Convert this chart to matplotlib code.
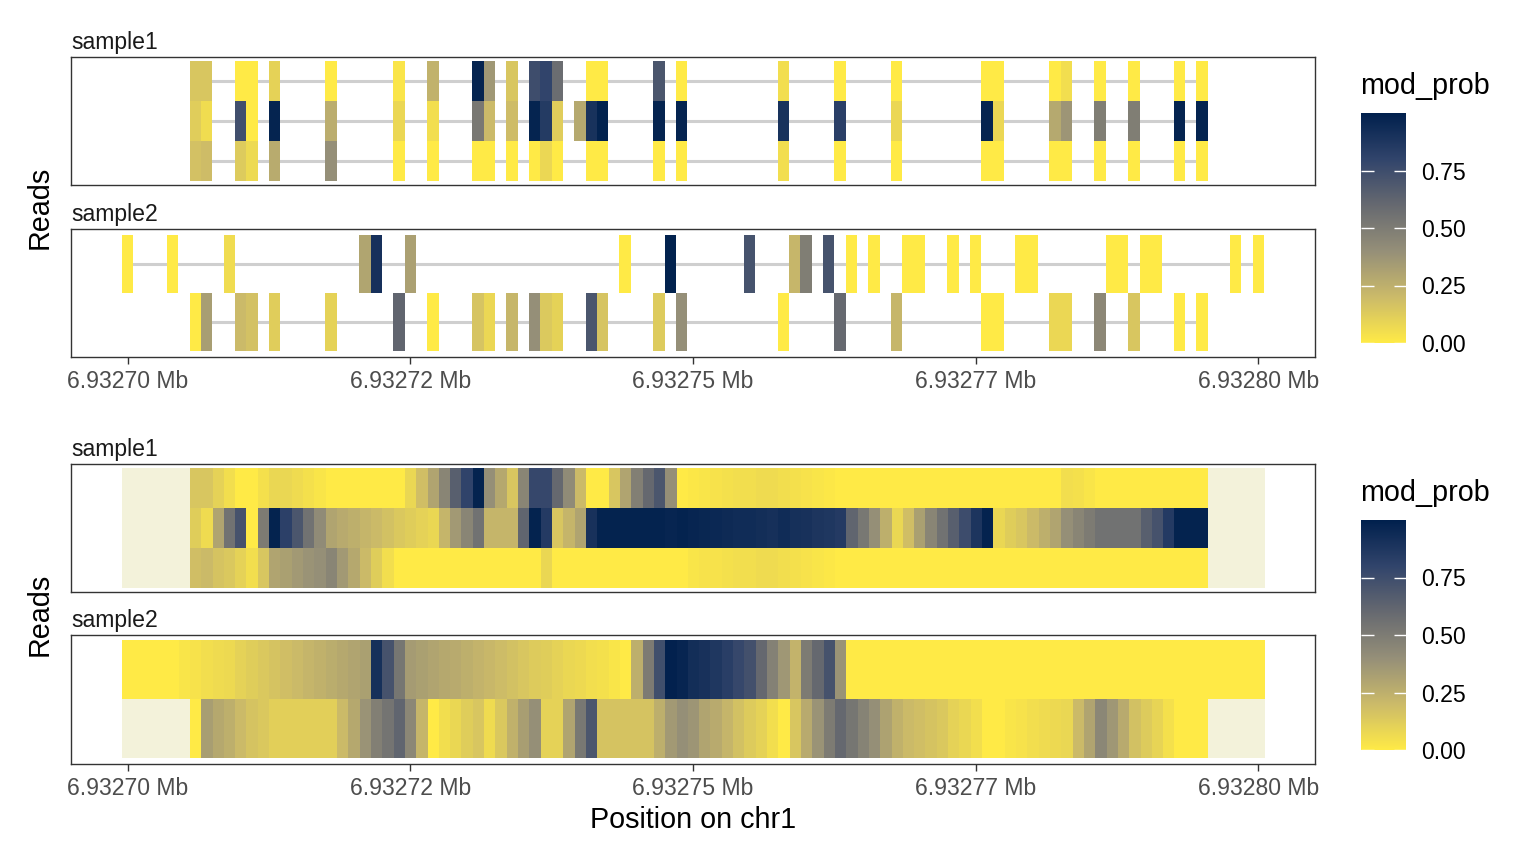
import numpy as np
import matplotlib
matplotlib.use("Agg")
import matplotlib.pyplot as plt
from matplotlib.colors import Normalize, LinearSegmentedColormap
from matplotlib.cm import ScalarMappable

plt.rcParams['font.family'] = ['Liberation Sans', 'DejaVu Sans']

nan = np.nan

# ---------------- data ----------------
region_start = 6932700          # chr1 position of offset 0
region_len = 101                # offsets 0..100
tick_offsets = [0, 25, 50, 75, 100]
tick_labels = ["6.93270 Mb", "6.93272 Mb", "6.93275 Mb", "6.93277 Mb", "6.93280 Mb"]
samples = ["sample1", "sample2"]

# read spans (offsets) per sample
s1_read_spans = [(6, 95), (6, 95), (6, 95)]
s2_read_spans = [(0, 100), (6, 95)]

# modification calls: offsets and mod_prob per read
s1_r1_pos = [6, 7, 10, 11, 13, 18, 24, 27, 31, 32, 34, 36, 37, 38, 41, 42, 47, 49,
             58, 63, 68, 76, 77, 82, 83, 86, 89, 93, 95]
s1_r1_prob = [0.15, 0.15, 0.0, 0.0, 0.1, 0.0, 0.02, 0.24, 0.98, 0.36, 0.15, 0.75, 0.8, 0.58, 0.0, 0.0, 0.7, 0.0,
              0.05, 0.0, 0.0, 0.0, 0.0, 0.0, 0.05, 0.0, 0.0, 0.0, 0.0]
s1_r2_pos = [6, 7, 10, 11, 13, 18, 24, 27, 31, 32, 34, 36, 37, 38, 40, 41, 42, 47, 49,
             58, 63, 68, 76, 77, 82, 83, 86, 89, 93, 95]
s1_r2_prob = [0.12, 0.06, 0.74, 0.0, 0.98, 0.26, 0.08, 0.05, 0.52, 0.2, 0.19, 0.98, 0.85, 0.12, 0.28, 0.9, 0.99, 0.98, 0.98,
              0.9, 0.83, 0.08, 0.98, 0.08, 0.28, 0.37, 0.49, 0.49, 0.98, 0.98]
s1_r3_pos = [6, 7, 10, 11, 13, 18, 24, 27, 31, 32, 34, 36, 37, 38, 41, 42, 47, 49,
             58, 63, 68, 76, 77, 82, 83, 86, 89, 93, 95]
s1_r3_prob = [0.17, 0.19, 0.13, 0.07, 0.27, 0.4, 0.0, 0.0, 0.0, 0.0, 0.0, 0.0, 0.08, 0.0, 0.0, 0.0, 0.0, 0.0,
              0.05, 0.0, 0.0, 0.0, 0.0, 0.0, 0.0, 0.0, 0.0, 0.0, 0.0]

s2_r1_pos = [0, 4, 9, 21, 22, 25, 44, 48, 55, 59, 60, 62, 64, 66, 69, 70, 73, 75,
             79, 80, 87, 88, 90, 91, 98, 100]
s2_r1_prob = [0.0, 0.0, 0.06, 0.3, 0.91, 0.32, 0.0, 0.99, 0.72, 0.22, 0.49, 0.72, 0.0, 0.0, 0.0, 0.0, 0.0, 0.0,
              0.0, 0.0, 0.0, 0.0, 0.0, 0.0, 0.0, 0.0]
s2_r2_pos = [6, 7, 10, 11, 13, 18, 24, 27, 31, 32, 34, 36, 37, 38, 41, 42, 47, 49,
             58, 63, 68, 76, 77, 82, 83, 86, 89, 93, 95]
s2_r2_prob = [0.0, 0.33, 0.2, 0.17, 0.12, 0.1, 0.62, 0.0, 0.16, 0.08, 0.22, 0.4, 0.14, 0.1, 0.7, 0.16, 0.13, 0.4,
              0.0, 0.6, 0.22, 0.0, 0.0, 0.08, 0.08, 0.44, 0.15, 0.0, 0.0]

# smoothed mod_prob per position (offsets 0..100), NaN outside read
s1_smooth_r1 = ([nan] * 6 +
                [0.15, 0.15, 0.1, 0.05, 0.0, 0.0, 0.04, 0.08, 0.08, 0.06, 0.04, 0.02] +
                [0.0] * 7 +
                [0.08, 0.18, 0.3, 0.45, 0.65, 0.8, 0.98, 0.4, 0.28, 0.15, 0.45, 0.78, 0.78, 0.6, 0.42, 0.2,
                 0.0, 0.0, 0.15, 0.3, 0.48, 0.6, 0.7, 0.4, 0.0,
                 0.01, 0.02, 0.03, 0.04, 0.05, 0.05, 0.06, 0.06, 0.05, 0.04, 0.03, 0.02, 0.01] +
                [0.0] * 20 +
                [0.05, 0.04, 0.02] +
                [0.0] * 10 +
                [nan] * 5)
s1_smooth_r2 = ([nan] * 6 +
                [0.12, 0.06, 0.3, 0.55, 0.72, 0.0, 0.5, 0.98, 0.82, 0.7, 0.55, 0.42, 0.3, 0.27, 0.25, 0.22,
                 0.2, 0.17, 0.14, 0.12, 0.1, 0.08, 0.22, 0.35, 0.45, 0.55, 0.22, 0.22, 0.22, 0.62, 0.98, 0.85,
                 0.15, 0.22, 0.3, 0.9, 0.98, 0.98, 0.98, 0.98, 0.98, 0.98, 0.97, 0.98, 0.97, 0.96, 0.95, 0.94,
                 0.93, 0.93, 0.92, 0.91, 0.93, 0.91, 0.9, 0.88, 0.87, 0.85, 0.62, 0.52, 0.4, 0.25, 0.08, 0.18,
                 0.32, 0.45, 0.55, 0.65, 0.75, 0.88, 0.98, 0.08, 0.12, 0.15, 0.2, 0.25, 0.3, 0.4, 0.45, 0.5,
                 0.55, 0.55, 0.55, 0.55, 0.65, 0.72, 0.85, 0.98, 0.98, 0.98] +
                [nan] * 5)
s1_smooth_r3 = ([nan] * 6 +
                [0.18, 0.2, 0.16, 0.14, 0.1, 0.05, 0.15, 0.3, 0.32, 0.35, 0.38, 0.4, 0.45, 0.35, 0.28, 0.2,
                 0.12, 0.05] +
                [0.0] * 13 +
                [0.08] +
                [0.0] * 12 +
                [0.02, 0.03, 0.03, 0.04, 0.05, 0.05, 0.06, 0.06, 0.05, 0.04, 0.03, 0.02, 0.01] +
                [0.0] * 33 +
                [nan] * 5)
s2_smooth_r1 = ([0.0] * 5 +
                [0.02, 0.03, 0.05, 0.06, 0.07, 0.1, 0.12, 0.14, 0.16, 0.18, 0.2, 0.22, 0.24, 0.26, 0.28, 0.3,
                 0.32, 0.91, 0.72, 0.53, 0.34, 0.32, 0.3, 0.28, 0.27, 0.25, 0.23, 0.21, 0.19, 0.17, 0.15, 0.13,
                 0.12, 0.1, 0.08, 0.07, 0.05, 0.04, 0.02, 0.0, 0.25, 0.5, 0.74, 0.99, 0.97, 0.92, 0.9, 0.87,
                 0.83, 0.78, 0.73, 0.6, 0.47, 0.36, 0.23, 0.5, 0.6, 0.72, 0.38] +
                [0.0] * 37)
s2_smooth_r2 = ([nan] * 6 +
                [0.0, 0.33, 0.28, 0.25, 0.2, 0.16, 0.14, 0.11, 0.11, 0.11, 0.11, 0.11, 0.11, 0.2, 0.28, 0.38,
                 0.48, 0.54, 0.62, 0.44, 0.22, 0.0, 0.05, 0.08, 0.12, 0.15, 0.06, 0.14, 0.24, 0.33, 0.4, 0.1,
                 0.1, 0.3, 0.52, 0.7, 0.16, 0.16, 0.16, 0.16, 0.16, 0.25, 0.35, 0.4, 0.37, 0.3, 0.27, 0.22,
                 0.17, 0.13, 0.1, 0.05, 0.0, 0.15, 0.27, 0.38, 0.5, 0.6, 0.53, 0.46, 0.4, 0.31, 0.24, 0.2,
                 0.18, 0.16, 0.14, 0.1, 0.08, 0.05, 0.0, 0.0, 0.02, 0.03, 0.05, 0.06, 0.07, 0.08, 0.2, 0.3,
                 0.44, 0.36, 0.27, 0.17, 0.13, 0.09, 0.04, 0.0, 0.0, 0.0] +
                [nan] * 5)

# ---------------- style ----------------
W, H = 1536, 864
fig = plt.figure(figsize=(W / 100, H / 100), dpi=100)
# six-stop cividis palette (low -> high), as used by ggplot's viridis scale
palette = ["#FFEA46", "#CBBA69", "#958F78", "#666970", "#31446B", "#00204D"]
cmap = LinearSegmentedColormap.from_list("cividis6_r", palette, N=512)
cmap.set_bad('#F3F2DA')
norm = Normalize(0.0, 1.0)
BORDER = '#333333'
LINE = '#CFCFCF'
BASE = 20.7
SMALL = 16.6


def px_axes(x0, y0, x1, y1):
    return fig.add_axes([x0 / W, 1 - y1 / H, (x1 - x0) / W, (y1 - y0) / H])


def style_axes(ax, n_rows, show_x):
    ax.set_xlim(region_start - 5, region_start + 105)
    ax.set_ylim(n_rows - 0.4, -0.6)
    ax.set_yticks([])
    for s in ax.spines.values():
        s.set_color(BORDER)
        s.set_linewidth(1.0)
    ax.set_xticks([region_start + t for t in tick_offsets])
    if show_x:
        ax.set_xticklabels(tick_labels, fontsize=SMALL, color='#4D4D4D')
        ax.tick_params(axis='x', length=5, width=1.0, color=BORDER, pad=4.5)
    else:
        ax.tick_params(axis='x', length=0, labelbottom=False)


def strip(label, y_px):
    fig.text(71 / W, 1 - y_px / H, label, fontsize=SMALL, color='#1A1A1A', va='baseline', ha='left')


panel_x0, panel_x1 = 71, 1315

# ---- top block: reads with modification calls ----
top_reads = [
    (s1_read_spans, [(s1_r1_pos, s1_r1_prob), (s1_r2_pos, s1_r2_prob), (s1_r3_pos, s1_r3_prob)]),
    (s2_read_spans, [(s2_r1_pos, s2_r1_prob), (s2_r2_pos, s2_r2_prob)]),
]
top_y = [(57, 185), (229, 357)]
for i, (spans, reads) in enumerate(top_reads):
    ax = px_axes(panel_x0, top_y[i][0], panel_x1, top_y[i][1])
    for r, ((a, b), (pos, prob)) in enumerate(zip(spans, reads)):
        ax.hlines(r, region_start + a, region_start + b, color=LINE, lw=2.2, zorder=1)
        x = [region_start + p for p in pos]
        ax.bar(x, 1.0, width=1.0, bottom=r - 0.5, color=cmap(norm(np.array(prob))),
               linewidth=0, zorder=2)
    style_axes(ax, len(reads), show_x=(i == 1))
    strip(samples[i], top_y[i][0] - 8)

# ---- bottom block: smoothed per-position heatmap ----
bottom_rows = [[s1_smooth_r1, s1_smooth_r2, s1_smooth_r3], [s2_smooth_r1, s2_smooth_r2]]
bot_y = [(464, 592), (635, 764)]
for i, rows in enumerate(bottom_rows):
    ax = px_axes(panel_x0, bot_y[i][0], panel_x1, bot_y[i][1])
    data = np.ma.masked_invalid(np.array(rows, dtype=float))
    n = data.shape[0]
    ax.imshow(data, cmap=cmap, norm=norm, aspect='auto', interpolation='nearest',
              extent=(region_start - 0.5, region_start + region_len - 0.5, n - 0.5, -0.5))
    style_axes(ax, n, show_x=(i == 1))
    strip(samples[i], bot_y[i][0] - 8)

# ---- axis titles ----
fig.text(40 / W, 1 - 207 / H, "Reads", rotation=90, fontsize=BASE, va='center', ha='center')
fig.text(40 / W, 1 - 614 / H, "Reads", rotation=90, fontsize=BASE, va='center', ha='center')
fig.text(693 / W, 1 - 820 / H, "Position on chr1", fontsize=BASE, va='center', ha='center')

# ---- colourbars ----
for (y0, y1, ty) in [(113, 343, 86), (520, 750, 493)]:
    cax = px_axes(1361, y0, 1406, y1)
    cb = fig.colorbar(ScalarMappable(norm=norm, cmap=cmap), cax=cax)
    cb.outline.set_visible(False)
    cb.set_ticks([0.0, 0.25, 0.5, 0.75])
    cb.set_ticklabels(["0.00", "0.25", "0.50", "0.75"])
    cax.tick_params(axis='y', direction='in', length=9, width=1.0, color='white',
                    left=True, right=True, labelleft=False, labelright=True,
                    labelsize=SMALL, labelcolor='black', pad=11)
    fig.text(1360 / W, 1 - ty / H, "mod_prob", fontsize=BASE, va='center', ha='left')

fig.savefig("out.png", dpi=100)
